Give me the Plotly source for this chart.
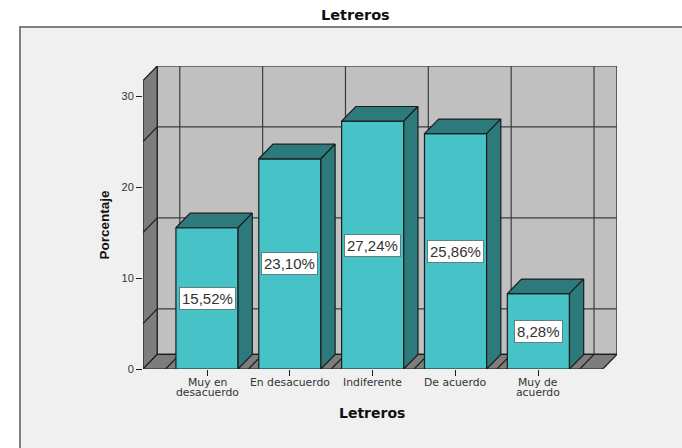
import plotly.graph_objects as go

# Survey results for the "Letreros" item
categories = ["Muy en desacuerdo", "En desacuerdo", "Indiferente", "De acuerdo", "Muy de acuerdo"]
category_lines = [["Muy en", "desacuerdo"], ["En desacuerdo"], ["Indiferente"], ["De acuerdo"], ["Muy de", "acuerdo"]]
percentages = [15.52, 23.10, 27.24, 25.86, 8.28]
percent_labels = ["15,52%", "23,10%", "27,24%", "25,86%", "8,28%"]
y_ticks = [0, 10, 20, 30]
grid_levels = [5, 15, 25]

# Figure geometry
WIDTH, HEIGHT = 682, 448
M_L, M_R, M_T, M_B = 143, 65, 66, 79
PLOT_W, PLOT_H = WIDTH - M_L - M_R, HEIGHT - M_T - M_B
PX_PER_CAT, PX_PER_VAL = 82.85, 9.1
X_MIN = -64 / PX_PER_CAT
X_MAX = X_MIN + PLOT_W / PX_PER_CAT
Y_MAX = PLOT_H / PX_PER_VAL

# Oblique depth of the pseudo-3D box, in axis units
DX, DY = 14.2 / PX_PER_CAT, 14.6 / PX_PER_VAL
Y_TOP = Y_MAX - DY
BAR_W = 0.75

FRONT = "#47c2c7"
DARK = "#2d7a7c"
WALL = "#c0c0c0"
SIDE = "#7d7d7d"
PANEL = "#f0f0f0"
EDGE = "#1c1c1c"
GRID = "#3c3c3c"
TEXT = "#333333"
WIDE = "DejaVu Sans"


def polygon(points, fill, line=EDGE, width=1.2):
    path = "M" + " L".join(f"{x},{y}" for x, y in points) + " Z"
    return dict(type="path", path=path, xref="x", yref="y", fillcolor=fill,
                line=dict(color=line, width=width), layer="below")


def segment(x0, y0, x1, y1, color=GRID, width=1.2):
    return dict(type="line", x0=x0, y0=y0, x1=x1, y1=y1, xref="x", yref="y",
                line=dict(color=color, width=width), layer="below")


def paper_text(px, py, text, font, size, angle=0):
    return dict(x=(px - M_L) / PLOT_W, y=1 - (py - M_T) / PLOT_H, xref="paper", yref="paper",
                xanchor="center", yanchor="middle", text=text, textangle=angle, showarrow=False,
                font=dict(family=font, size=size, color="#111111"))


shapes = [
    # Panel behind the chart, open at the right and bottom edges
    dict(type="rect", xref="paper", yref="paper", layer="below",
         x0=(20 - M_L) / PLOT_W, x1=(WIDTH + 5 - M_L) / PLOT_W,
         y0=-(HEIGHT + 5 - M_T - PLOT_H) / PLOT_H, y1=1 + (M_T - 27) / PLOT_H,
         fillcolor=PANEL, line=dict(color="#808080", width=2)),
    polygon([(X_MIN + DX, DY), (X_MAX, DY), (X_MAX, Y_MAX), (X_MIN + DX, Y_MAX)], WALL),
    polygon([(X_MIN, 0), (X_MIN + DX, DY), (X_MIN + DX, Y_MAX), (X_MIN, Y_TOP)], SIDE),
    polygon([(X_MIN, 0), (X_MIN + DX, DY), (X_MAX, DY), (X_MAX - DX, 0)], SIDE),
]
for level in grid_levels:
    shapes.append(segment(X_MIN + DX, level + DY, X_MAX, level + DY))
    shapes.append(segment(X_MIN, level, X_MIN + DX, level + DY, EDGE))
for i in range(len(categories) + 1):
    boundary = i - 0.5
    shapes.append(segment(boundary + DX, DY, boundary + DX, Y_MAX))
    shapes.append(segment(boundary, 0, boundary + DX, DY, EDGE))

fig = go.Figure()
positions = list(range(len(categories)))

fig.add_trace(go.Bar(x=positions, y=percentages, width=BAR_W, marker=dict(color=FRONT, line=dict(color=EDGE, width=1.2)),
                     hoverinfo="skip", showlegend=False))

# Top and side faces of each bar follow from its value
for pos, value in zip(positions, percentages):
    left, right = pos - BAR_W / 2, pos + BAR_W / 2
    faces = [
        ([left, left + DX, right + DX, right, left], [value, value + DY, value + DY, value, value]),
        ([right, right + DX, right + DX, right, right], [0, DY, value + DY, value, 0]),
    ]
    for xs, ys in faces:
        fig.add_trace(go.Scatter(x=xs, y=ys, mode="lines", fill="toself", fillcolor=DARK,
                                 line=dict(color=EDGE, width=1.2), cliponaxis=False,
                                 hoverinfo="skip", showlegend=False))

annotations = []
for pos, value, label in zip(positions, percentages, percent_labels):
    annotations.append(dict(x=pos, y=value / 2, xref="x", yref="y", text=label, showarrow=False,
                            font=dict(family="Liberation Sans", size=15, color=TEXT),
                            bgcolor="white", bordercolor="#5f7f80", borderwidth=1, borderpad=2))
for pos, lines in zip(positions, category_lines):
    for row, line in enumerate(lines):
        annotations.append(dict(x=pos, y=0, xref="x", yref="y", text=line, showarrow=False,
                                yanchor="middle", yshift=-13.5 - 10 * row,
                                font=dict(family=WIDE, size=10.8, color=TEXT)))
annotations += [
    paper_text(355, 15, "<b>Letreros</b>", WIDE, 14.5),
    paper_text(372, 413, "<b>Letreros</b>", WIDE, 14),
    paper_text(103.5, 225, "<b>Porcentaje</b>", "Liberation Sans", 13.5, -90),
]

fig.update_layout(
    width=WIDTH, height=HEIGHT,
    margin=dict(l=M_L, r=M_R, t=M_T, b=M_B, pad=0),
    paper_bgcolor="white", plot_bgcolor="rgba(0,0,0,0)",
    shapes=shapes, annotations=annotations, showlegend=False,
    xaxis=dict(range=[X_MIN, X_MAX], tickvals=positions, ticktext=[""] * len(positions),
               ticks="outside", ticklen=6, tickwidth=1, tickcolor=EDGE,
               showgrid=False, zeroline=False, showline=False, fixedrange=True),
    yaxis=dict(range=[0, Y_MAX], tickvals=y_ticks, ticks="outside", ticklen=6, tickwidth=1, tickcolor=EDGE,
               tickfont=dict(family="Liberation Sans", size=11, color=TEXT),
               showgrid=False, zeroline=False, showline=False, fixedrange=True),
)

fig.write_html("out.html", config=dict(displayModeBar=False))
